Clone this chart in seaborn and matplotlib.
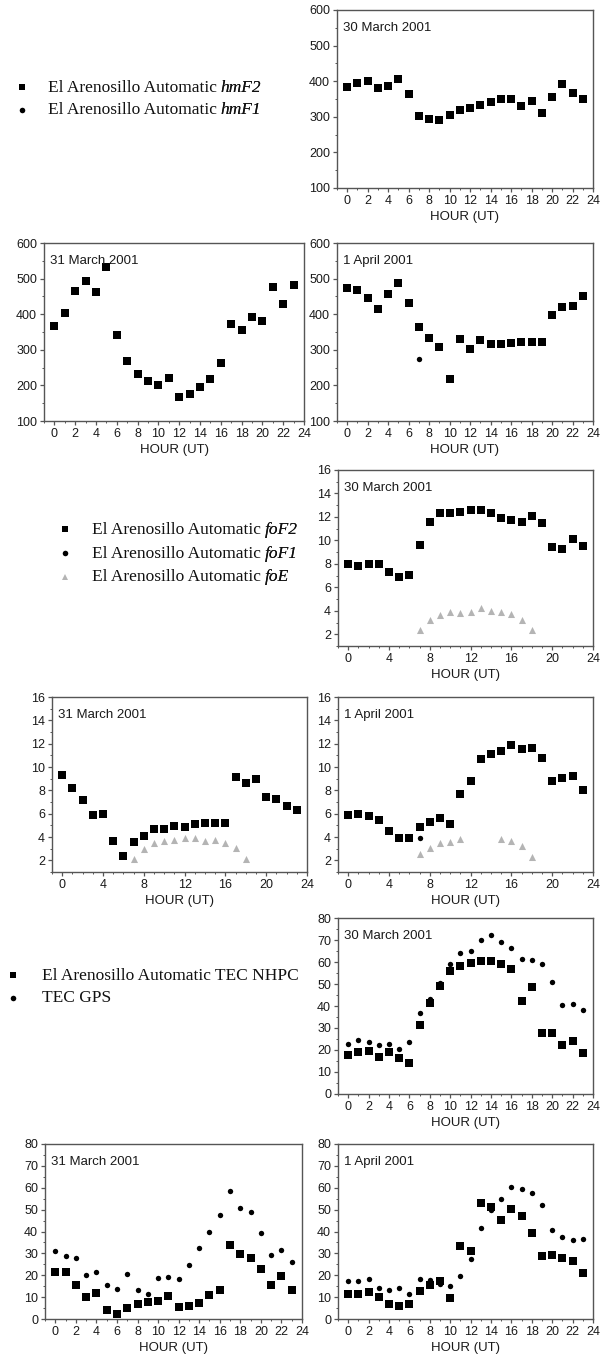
import numpy as np
import pandas as pd
import matplotlib
matplotlib.use("Agg")
import matplotlib.pyplot as plt
from matplotlib.lines import Line2D
from matplotlib.ticker import MultipleLocator
import seaborn as sns

sns.set_style("ticks")
plt.rcParams['font.family'] = ['Liberation Sans', 'DejaVu Sans']

hours = list(range(24))

# ---- hmF2 / hmF1 (km) ----
hmF2_30mar = [385, 396, 401, 380, 386, 407, 365, 303, 294, 292, 305, 320,
              326, 332, 342, 351, 350, 331, 344, 310, 357, 391, 368, 350]
hmF2_31mar = [366, 403, 464, 492, 462, 533, 341, 269, 231, 212, 202, 221,
              168, 175, 195, 219, 264, 373, 356, 391, 382, 476, 429, 483]
hmF2_1apr = [474, 469, 445, 415, 458, 487, 432, 363, 334, 308, 217, 329,
             303, 328, 317, 317, 319, 322, 323, 321, 399, 420, 422, 450]
hmF1_1apr_hours = [7]
hmF1_1apr = [275]

# ---- foF2 / foF1 / foE (MHz) ----
foF2_30mar = [8.0, 7.8, 8.0, 8.0, 7.3, 6.9, 7.05, 9.6, 11.6, 12.3, 12.3, 12.4,
              12.55, 12.55, 12.3, 11.9, 11.7, 11.6, 12.1, 11.5, 9.4, 9.3, 10.1, 9.55]
foF2_31mar = [9.3, 8.2, 7.2, 5.9, 6.0, 3.7, 2.4, 3.6, 4.1, 4.65, 4.65, 4.95,
              4.9, 5.1, 5.2, 5.2, 5.2, 9.15, 8.6, 9.0, 7.45, 7.3, 6.7, 6.35]
foF2_1apr = [5.9, 6.0, 5.8, 5.45, 4.5, 3.95, 3.95, 4.9, 5.3, 5.65, 5.1, 7.7,
             8.8, 10.7, 11.1, 11.35, 11.9, 11.55, 11.6, 10.8, 8.8, 9.1, 9.2, 8.05]
foF1_1apr_hours = [7]
foF1_1apr = [3.9]
foE_30mar_hours = [7, 8, 9, 10, 11, 12, 13, 14, 15, 16, 17, 18]
foE_30mar = [2.4, 3.2, 3.6, 3.9, 3.8, 3.9, 4.2, 4.0, 3.9, 3.7, 3.2, 2.4]
foE_31mar_hours = [7, 8, 9, 10, 11, 12, 13, 14, 15, 16, 17, 18]
foE_31mar = [2.15, 3.0, 3.5, 3.7, 3.75, 3.9, 3.9, 3.7, 3.75, 3.45, 3.1, 2.15]
foE_1apr_hours = [7, 8, 9, 10, 11, 15, 16, 17, 18]
foE_1apr = [2.55, 3.05, 3.45, 3.6, 3.85, 3.85, 3.65, 3.2, 2.3]

# ---- TEC (TECU) ----
tecN_30mar = [17.8, 18.9, 19.6, 16.6, 18.9, 16.3, 14.0, 31.2, 41.2, 49.0, 56.0, 58.0,
              59.5, 60.5, 60.5, 59.2, 57.0, 42.4, 48.5, 27.9, 27.6, 22.3, 24.3, 18.6]
tecG_30mar = [22.8, 24.6, 23.8, 22.3, 22.8, 20.4, 23.5, 37.0, 43.2, 50.5, 59.0, 64.3,
              65.0, 70.0, 72.3, 69.2, 66.2, 61.5, 61.0, 59.0, 51.0, 40.5, 40.9, 38.2]
tecN_31mar = [21.7, 21.3, 15.7, 10.0, 11.9, 4.1, 2.4, 4.9, 6.8, 7.8, 8.1, 10.6,
              5.3, 6.1, 7.3, 10.8, 13.4, 33.9, 29.8, 27.8, 22.8, 15.7, 19.8, 13.4]
tecG_31mar = [31.3, 28.6, 27.8, 20.2, 21.7, 15.4, 13.7, 20.7, 13.4, 11.6, 18.7, 19.2,
              18.4, 24.9, 32.5, 40.0, 47.6, 58.6, 50.6, 48.7, 39.5, 29.4, 31.6, 25.9]
tecN_1apr = [11.4, 11.4, 12.2, 10.0, 6.8, 5.8, 6.8, 12.6, 15.7, 17.6, 9.4, 33.6,
             31.3, 52.9, 51.1, 45.3, 50.5, 47.1, 39.5, 29.0, 29.4, 27.8, 26.3, 21.0]
tecG_1apr = [17.2, 17.2, 18.4, 14.4, 13.1, 14.4, 11.3, 18.4, 17.9, 16.1, 15.2, 19.5,
             27.4, 41.8, 49.9, 54.8, 60.2, 59.6, 57.5, 52.3, 40.6, 37.4, 35.9, 36.7]

W, H = 601, 1361
fig = plt.figure(figsize=(W / 100, H / 100), dpi=100)

def add_ax(x0, x1, y0, y1):
    return fig.add_axes([x0 / W, 1 - y1 / H, (x1 - x0) / W, (y1 - y0) / H])

SPINE = '#555555'
TXT = '#1a1a1a'
SQ_S = 26
CI_S = 15
TR_S = 26
GRAY = '#b4b4b4'

def style(ax, title, kind):
    ax.set_xlim(-1, 24)
    if kind == 'hm':
        ax.set_ylim(100, 600)
        ax.xaxis.set_major_locator(MultipleLocator(2))
        ax.xaxis.set_minor_locator(MultipleLocator(1))
        ax.yaxis.set_major_locator(MultipleLocator(100))
        ax.yaxis.set_minor_locator(MultipleLocator(50))
    elif kind == 'fo':
        ax.set_ylim(1, 16)
        ax.xaxis.set_major_locator(MultipleLocator(4))
        ax.xaxis.set_minor_locator(MultipleLocator(1))
        ax.set_yticks([2, 4, 6, 8, 10, 12, 14, 16])
        ax.yaxis.set_minor_locator(MultipleLocator(1))
    else:
        ax.set_ylim(0, 80)
        ax.xaxis.set_major_locator(MultipleLocator(2))
        ax.xaxis.set_minor_locator(MultipleLocator(1))
        ax.yaxis.set_major_locator(MultipleLocator(10))
        ax.yaxis.set_minor_locator(MultipleLocator(5))
    for sp in ax.spines.values():
        sp.set_visible(True)
        sp.set_color(SPINE)
        sp.set_linewidth(1.0)
    ax.tick_params(which='major', direction='out', length=3, width=0.9,
                   color=SPINE, labelsize=9, labelcolor=TXT, pad=2)
    ax.tick_params(which='minor', direction='out', length=1.5, width=0.7, color=SPINE)
    ax.set_xlabel('HOUR (UT)', fontsize=9.5, color=TXT, labelpad=3)
    ax.set_ylabel('')
    ax.text(6 / (ax.get_position().width * W), 1 - 18 / (ax.get_position().height * H),
            title, transform=ax.transAxes, fontsize=9.5, color=TXT, va='center', ha='left')

def sq(ax, x, y):
    sns.scatterplot(x=x, y=y, ax=ax, marker='s', color='black', s=SQ_S,
                    linewidth=0, legend=False, zorder=3)

def ci(ax, x, y):
    sns.scatterplot(x=x, y=y, ax=ax, marker='o', color='black', s=CI_S,
                    linewidth=0, legend=False, zorder=3)

def tr(ax, x, y):
    sns.scatterplot(x=x, y=y, ax=ax, marker='^', color=GRAY, s=TR_S,
                    linewidth=0, legend=False, zorder=2)

# Row 1
ax = add_ax(337, 593, 10, 188)
sq(ax, hours, hmF2_30mar)
style(ax, '30 March 2001', 'hm')
# Row 2
ax = add_ax(44, 304, 243, 421)
sq(ax, hours, hmF2_31mar)
style(ax, '31 March 2001', 'hm')
ax = add_ax(337, 593, 243, 421)
sq(ax, hours, hmF2_1apr)
ci(ax, hmF1_1apr_hours, hmF1_1apr)
style(ax, '1 April 2001', 'hm')
# Row 3
ax = add_ax(338, 593, 470, 646)
sq(ax, hours, foF2_30mar)
tr(ax, foE_30mar_hours, foE_30mar)
style(ax, '30 March 2001', 'fo')
# Row 4
ax = add_ax(52, 307, 697, 872)
sq(ax, hours, foF2_31mar)
tr(ax, foE_31mar_hours, foE_31mar)
style(ax, '31 March 2001', 'fo')
ax = add_ax(338, 593, 697, 872)
sq(ax, hours, foF2_1apr)
ci(ax, foF1_1apr_hours, foF1_1apr)
tr(ax, foE_1apr_hours, foE_1apr)
style(ax, '1 April 2001', 'fo')
# Row 5
ax = add_ax(338, 593, 918, 1094)
sq(ax, hours, tecN_30mar)
ci(ax, hours, tecG_30mar)
style(ax, '30 March 2001', 'tec')
# Row 6
ax = add_ax(45, 302, 1144, 1319)
sq(ax, hours, tecN_31mar)
ci(ax, hours, tecG_31mar)
style(ax, '31 March 2001', 'tec')
ax = add_ax(338, 593, 1144, 1319)
sq(ax, hours, tecN_1apr)
ci(ax, hours, tecG_1apr)
style(ax, '1 April 2001', 'tec')

# Legends
SERIF = ['Liberation Serif', 'DejaVu Serif']
FS = 12.5

def legend(entries, x_marker, x_text, y_lines):
    for (mk, col, ms, label, ital), y in zip(entries, y_lines):
        fig.add_artist(Line2D([x_marker / W], [1 - y / H], marker=mk, color=col,
                              markersize=ms, linestyle='none', markeredgewidth=0,
                              transform=fig.transFigure))
        t1 = fig.text(x_text / W, 1 - y / H, label, fontsize=FS, family=SERIF,
                      va='baseline', ha='left', color='#111111')
        t1.set_y(1 - (y + 4.5) / H)
        if ital:
            fig.text(0, 0, ital, fontsize=FS, family=SERIF, style='italic',
                     va='baseline', ha='left', color='#111111')
            it = fig.texts[-1]
            it.remove()
            fig.texts.append(plt.annotate(ital, xy=(1, 0), xycoords=t1,
                                          xytext=(2.5, 0), textcoords='offset points',
                                          fontsize=FS, family=SERIF, style='italic',
                                          va='bottom', ha='left', color='#111111',
                                          annotation_clip=False))

legend([('s', 'black', 4.2, 'El Arenosillo Automatic', 'hmF2'),
        ('o', 'black', 4.0, 'El Arenosillo Automatic', 'hmF1')],
       22, 48, [87, 110])
legend([('s', 'black', 4.2, 'El Arenosillo Automatic', 'foF2'),
        ('o', 'black', 4.0, 'El Arenosillo Automatic', 'foF1'),
        ('^', GRAY, 4.5, 'El Arenosillo Automatic', 'foE')],
       65, 92, [529, 553, 577])
legend([('s', 'black', 4.2, 'El Arenosillo Automatic TEC NHPC', None),
        ('o', 'black', 4.0, 'TEC GPS', None)],
       13, 42, [975, 998])

fig.savefig('out.png', dpi=100)
